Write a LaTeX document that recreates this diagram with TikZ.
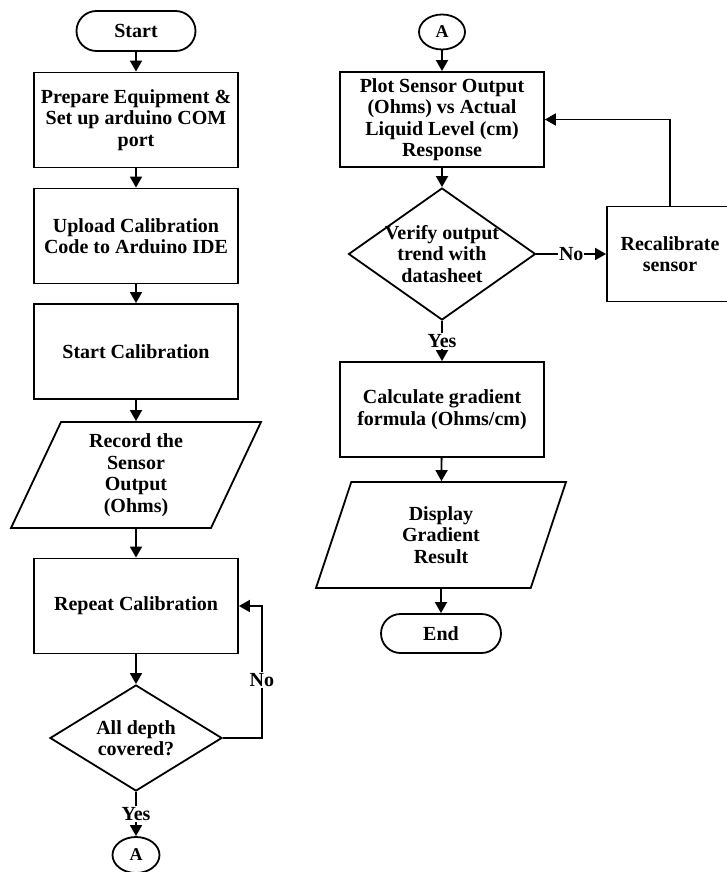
\documentclass[tikz,border=0pt]{standalone}
\usepackage{fontspec}
\setmainfont{Liberation Serif}
\usetikzlibrary{shapes.geometric,shapes.misc,arrows.meta}
\tikzset{
  process/.style={draw, rectangle, minimum width=204, minimum height=95, align=center, inner sep=2pt},
  terminal/.style={draw, rounded rectangle, minimum width=123, minimum height=40, inner sep=2pt},
  io/.style={draw, trapezium, trapezium left angle=60, trapezium right angle=120, trapezium stretches body, minimum width=250, minimum height=106, align=center, inner sep=2pt},
  decision/.style={draw, diamond, inner sep=0pt},
  connector/.style={draw, ellipse, inner sep=0pt, minimum width=47, minimum height=36, font=\fontsize{18}{20}\selectfont\bfseries},
  arr/.style={-{Triangle[width=12pt,length=11pt]}},
  answer/.style={fill=white, inner sep=1pt}
}
\begin{document}
\begin{tikzpicture}[x=1pt, y=-1pt, line width=1.8pt, font=\fontsize{20}{21.5}\selectfont\bfseries]
\useasboundingbox (0,0) rectangle (726,872);

\node[terminal] (start) at (136,31) {Start};
\node[process] (prep) at (136,120) {Prepare Equipment \&\\Set up arduino COM\\port};
\node[process] (upload) at (136,236) {Upload Calibration\\Code to Arduino IDE};
\node[process] (calib) at (136,351.5) {Start Calibration};
\node[io] (record) at (136,475) {Record the\\Sensor\\Output\\(Ohms)};
\node[process] (repeat) at (136,606) {Repeat Calibration};
\node[decision, minimum width=172, minimum height=106, label={[align=center]center:{All depth\\covered?}}] (depth) at (136,738) {};
\node[connector] (conA) at (136,855) {A};

\node[connector, minimum width=46, minimum height=35] (conB) at (442,32) {A};
\node[process] (plot) at (442,119.5) {Plot Sensor Output\\(Ohms) vs Actual\\Liquid Level (cm)\\Response};
\node[decision, minimum width=187, minimum height=132, label={[align=center]center:{Verify output\\trend with\\datasheet}}] (verify) at (442,254) {};
\node[process, minimum width=126] (recal) at (670,254) {Recalibrate\\sensor};
\node[process] (grad) at (442,409.5) {Calculate gradient\\formula (Ohms/cm)};
\node[io] (display) at (441,535) {Display\\Gradient\\Result};
\node[terminal, minimum width=124, minimum height=39] (end) at (441,633.5) {End};

\foreach \a/\b in {start/prep, prep/upload, upload/calib, calib/record, record/repeat, repeat/depth, conB/plot, plot/verify, grad/display, display/end}
\draw[arr] (\a) -- (\b);

\draw[arr] (depth) -- node[answer] {Yes} (conA);
\draw[arr] (depth.east) -- ++(39,0) |- node[answer, pos=0.22] {No} (repeat.east);
\draw[arr] (verify) -- node[answer] {No} (recal);
\draw[arr] (recal.north) |- (plot.east);
\draw[arr] (verify) -- node[answer] {Yes} (grad);
\end{tikzpicture}
\end{document}
